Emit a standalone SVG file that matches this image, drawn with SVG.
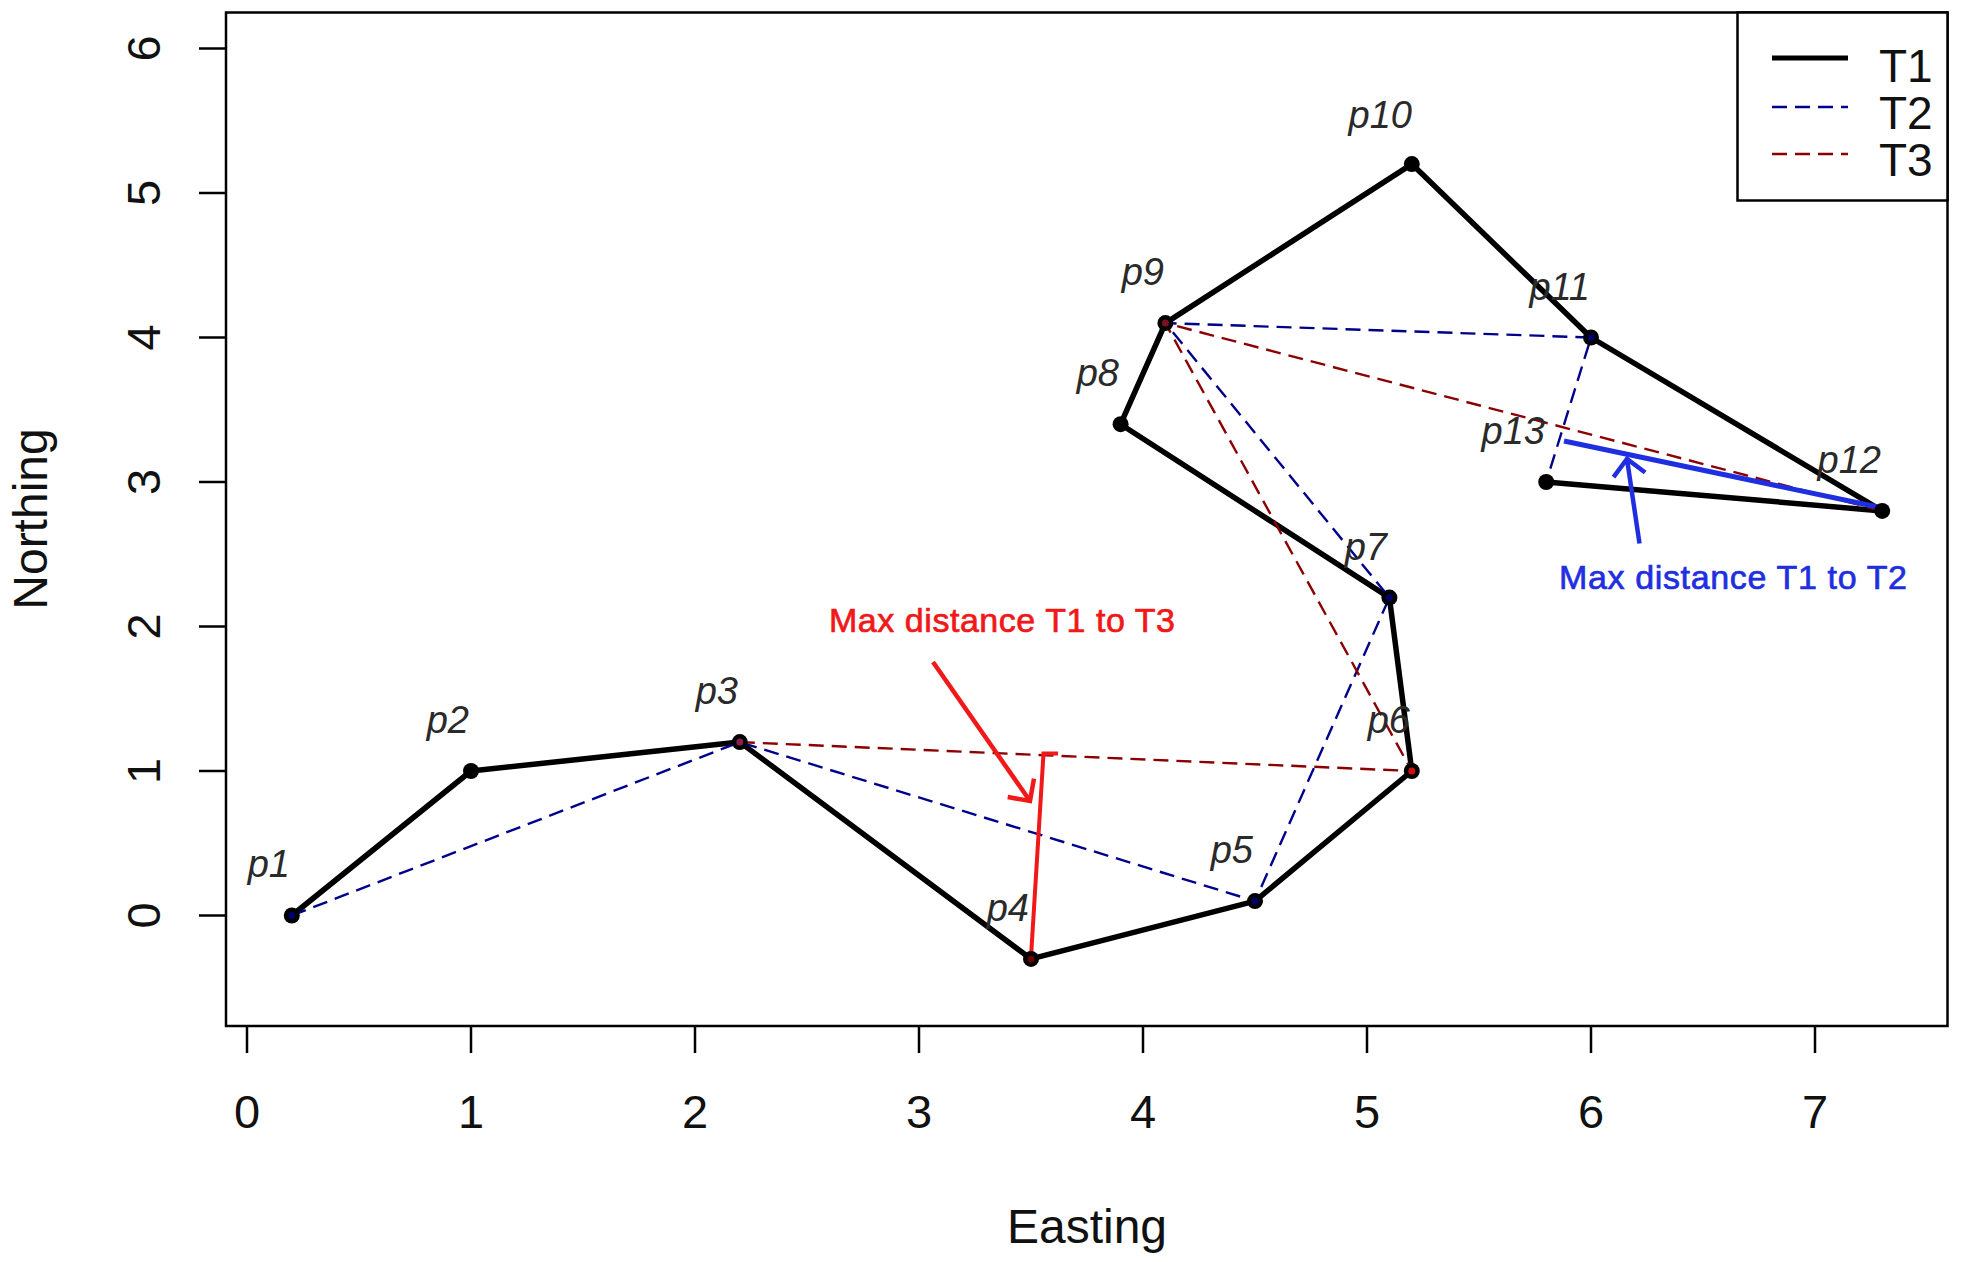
<svg xmlns="http://www.w3.org/2000/svg" width="1961" height="1262" viewBox="0 0 1961 1262">
<style>
  .axis { stroke:#000; stroke-width:2.5; fill:none; }
  .tick { stroke:#000; stroke-width:2.5; }
  .ticklbl { font-family:"Liberation Sans", Arial, sans-serif; font-size:47px; fill:#111; text-anchor:middle; }
  .axtitle { font-family:"Liberation Sans", Arial, sans-serif; font-size:48px; fill:#111; text-anchor:middle; }
  .plbl { font-family:"Liberation Sans", Arial, sans-serif; font-size:38px; font-style:italic; fill:#2a2a2a; text-anchor:end; }
  .t1 { stroke:#000; stroke-width:5.5; fill:none; stroke-linejoin:round; stroke-linecap:round; }
  .t2 { stroke:#00008B; stroke-width:2.4; fill:none; stroke-dasharray:15 8; }
  .t3 { stroke:#8B0000; stroke-width:2.4; fill:none; stroke-dasharray:15 8; }
  .pt { fill:#000; }
  .ann { font-family:"Liberation Sans", Arial, sans-serif; font-size:34px; stroke-width:0.7; }
  .legtxt { font-family:"Liberation Sans", Arial, sans-serif; font-size:46px; fill:#111; }
</style>
<defs>
  <marker id="arrRed" markerUnits="userSpaceOnUse" viewBox="0 0 40 40" markerWidth="40" markerHeight="40" refX="20" refY="20" orient="auto">
    <path d="M4,4 L20,20 L4,36" fill="none" stroke="#F01818" stroke-width="4.5"/>
  </marker>
  <marker id="arrBlue" markerUnits="userSpaceOnUse" viewBox="0 0 40 40" markerWidth="40" markerHeight="40" refX="20" refY="20" orient="auto">
    <path d="M4,4 L20,20 L4,36" fill="none" stroke="#1F2FE0" stroke-width="4.5"/>
  </marker>
</defs>
<rect x="0" y="0" width="1961" height="1262" fill="#fff"/>

<g id="axes">
  <rect class="axis" x="226" y="12.5" width="1721.5" height="1013.5"/>
  <g id="xticks">
    <line class="tick" x1="247" y1="1026" x2="247" y2="1053"/>
    <line class="tick" x1="471" y1="1026" x2="471" y2="1053"/>
    <line class="tick" x1="695" y1="1026" x2="695" y2="1053"/>
    <line class="tick" x1="919" y1="1026" x2="919" y2="1053"/>
    <line class="tick" x1="1143" y1="1026" x2="1143" y2="1053"/>
    <line class="tick" x1="1367" y1="1026" x2="1367" y2="1053"/>
    <line class="tick" x1="1591" y1="1026" x2="1591" y2="1053"/>
    <line class="tick" x1="1815" y1="1026" x2="1815" y2="1053"/>
    <text class="ticklbl" x="247" y="1128">0</text>
    <text class="ticklbl" x="471" y="1128">1</text>
    <text class="ticklbl" x="695" y="1128">2</text>
    <text class="ticklbl" x="919" y="1128">3</text>
    <text class="ticklbl" x="1143" y="1128">4</text>
    <text class="ticklbl" x="1367" y="1128">5</text>
    <text class="ticklbl" x="1591" y="1128">6</text>
    <text class="ticklbl" x="1815" y="1128">7</text>
  </g>
  <g id="yticks">
    <line class="tick" x1="199" y1="915.5" x2="226" y2="915.5"/>
    <line class="tick" x1="199" y1="771" x2="226" y2="771"/>
    <line class="tick" x1="199" y1="626.5" x2="226" y2="626.5"/>
    <line class="tick" x1="199" y1="482" x2="226" y2="482"/>
    <line class="tick" x1="199" y1="337.5" x2="226" y2="337.5"/>
    <line class="tick" x1="199" y1="193" x2="226" y2="193"/>
    <line class="tick" x1="199" y1="48.5" x2="226" y2="48.5"/>
    <text class="ticklbl" transform="translate(160,915.5) rotate(-90)">0</text>
    <text class="ticklbl" transform="translate(160,771) rotate(-90)">1</text>
    <text class="ticklbl" transform="translate(160,626.5) rotate(-90)">2</text>
    <text class="ticklbl" transform="translate(160,482) rotate(-90)">3</text>
    <text class="ticklbl" transform="translate(160,337.5) rotate(-90)">4</text>
    <text class="ticklbl" transform="translate(160,193) rotate(-90)">5</text>
    <text class="ticklbl" transform="translate(160,48.5) rotate(-90)">6</text>
  </g>
  <text class="axtitle" x="1087" y="1243">Easting</text>
  <text class="axtitle" transform="translate(47,519) rotate(-90)">Northing</text>
</g>

<g id="connectors">
  <polyline id="T1" class="t1" points="291.8,915.5 471,771 739.8,742.1 1031,958.9 1255,901.1 1411.8,771 1389.4,597.6 1120.6,424.2 1165.4,323.1 1411.8,164.1 1591,337.5 1882.2,510.9 1546.2,482"/>
  <polyline id="T2" class="t2" points="291.8,915.5 739.8,742.1 1255,901.1 1389.4,597.6 1165.4,323.1 1591,337.5 1546.2,482"/>
  <polyline id="T3" class="t3" points="739.8,742.1 1411.8,771 1165.4,323.1 1882.2,510.9"/>
  <polyline id="maxT3" points="1031,957 1043.5,753.5 1058,753.5" fill="none" stroke="#F01818" stroke-width="4"/>
  <line id="arrowT3" x1="933" y1="662" x2="1030" y2="801" stroke="#F01818" stroke-width="4.5" marker-end="url(#arrRed)"/>
  <line id="maxT2" x1="1564" y1="441" x2="1878" y2="507" stroke="#1F2FE0" stroke-width="5"/>
  <line id="arrowT2" x1="1639.5" y1="543.5" x2="1627" y2="459" stroke="#1F2FE0" stroke-width="4.5" marker-end="url(#arrBlue)"/>
</g>

<g id="p1"><circle class="pt" cx="291.8" cy="915.5" r="8"/><circle cx="291.8" cy="915.5" r="3.5" fill="#00006B"/><text class="plbl" x="290" y="877">p1</text></g>
<g id="p2"><circle class="pt" cx="471" cy="771" r="8"/><text class="plbl" x="469" y="733">p2</text></g>
<g id="p3"><circle class="pt" cx="739.8" cy="742.1" r="8"/><circle cx="739.8" cy="742.1" r="3.5" fill="#8B2050"/><text class="plbl" x="738" y="704">p3</text></g>
<g id="p4"><circle class="pt" cx="1031" cy="958.9" r="8"/><circle cx="1031" cy="958.9" r="3.5" fill="#6B0000"/><text class="plbl" x="1029" y="921">p4</text></g>
<g id="p5"><circle class="pt" cx="1255" cy="901.1" r="8"/><circle cx="1255" cy="901.1" r="3.5" fill="#00006B"/><text class="plbl" x="1253" y="863">p5</text></g>
<g id="p6"><circle class="pt" cx="1411.8" cy="771" r="8"/><circle cx="1411.8" cy="771" r="3.5" fill="#D01010"/><text class="plbl" x="1410" y="733">p6</text></g>
<g id="p7"><circle class="pt" cx="1389.4" cy="597.6" r="8"/><circle cx="1389.4" cy="597.6" r="3.5" fill="#00006B"/><text class="plbl" x="1387" y="560">p7</text></g>
<g id="p8"><circle class="pt" cx="1120.6" cy="424.2" r="8"/><text class="plbl" x="1119" y="386">p8</text></g>
<g id="p9"><circle class="pt" cx="1165.4" cy="323.1" r="8"/><circle cx="1165.4" cy="323.1" r="3.5" fill="#7B1020"/><text class="plbl" x="1164" y="285">p9</text></g>
<g id="p10"><circle class="pt" cx="1411.8" cy="164.1" r="8"/><text class="plbl" x="1412" y="128">p10</text></g>
<g id="p11"><circle class="pt" cx="1591" cy="337.5" r="8"/><circle cx="1591" cy="337.5" r="3.5" fill="#00006B"/><text class="plbl" x="1590" y="300">p11</text></g>
<g id="p12"><circle class="pt" cx="1882.2" cy="510.9" r="8"/><text class="plbl" x="1881" y="473">p12</text></g>
<g id="p13"><circle class="pt" cx="1546.2" cy="482" r="8"/><text class="plbl" x="1545" y="444">p13</text></g>

<g id="annotations">
  <text class="ann" x="829" y="632" fill="#F01818" stroke="#F01818" textLength="346" lengthAdjust="spacing">Max distance T1 to T3</text>
  <text class="ann" x="1559" y="589" fill="#1F2FE0" stroke="#1F2FE0" textLength="348" lengthAdjust="spacing">Max distance T1 to T2</text>
</g>

<g id="legend">
  <rect x="1737.5" y="12.5" width="210" height="188" fill="#fff" stroke="#000" stroke-width="2.5"/>
  <line x1="1772" y1="58" x2="1848" y2="58" stroke="#000" stroke-width="5"/>
  <line x1="1772" y1="107" x2="1848" y2="107" class="t2"/>
  <line x1="1772" y1="154" x2="1848" y2="154" class="t3"/>
  <text class="legtxt" x="1879" y="82">T1</text>
  <text class="legtxt" x="1879" y="129">T2</text>
  <text class="legtxt" x="1879" y="176">T3</text>
</g>
</svg>
